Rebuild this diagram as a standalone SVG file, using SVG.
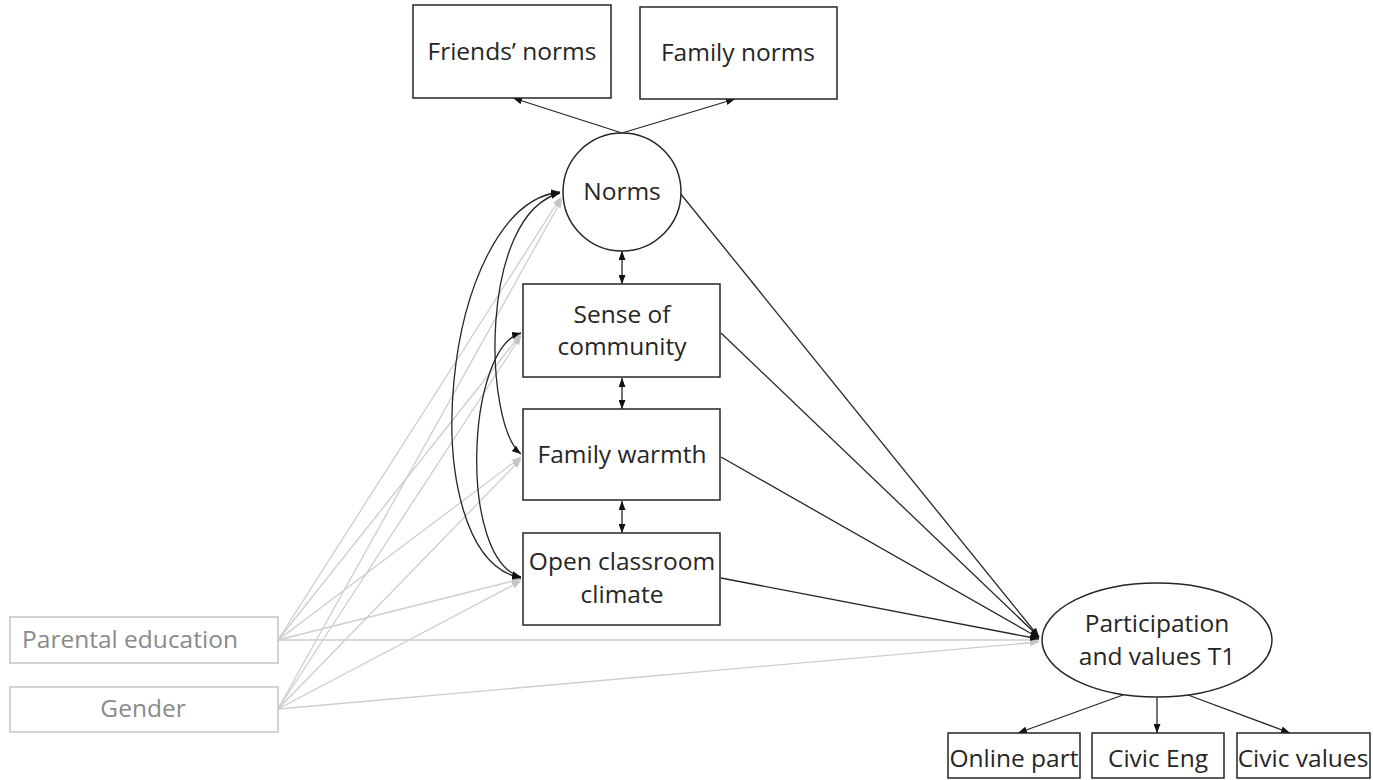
<svg xmlns="http://www.w3.org/2000/svg" width="1373" height="780" viewBox="0 0 1373 780">
<style>
  .box{fill:#fff;stroke:#262626;stroke-width:1.5}
  .gbox{fill:#fff;stroke:#c4c4c4;stroke-width:1.5}
  .t{font-family:"Open Sans","Liberation Sans",sans-serif;font-size:24.5px;fill:#262626;text-anchor:middle}
  .gt{font-family:"Open Sans","Liberation Sans",sans-serif;font-size:24.5px;fill:#8a8a8a;text-anchor:middle}
  .c{fill:none;stroke:#262626;stroke-width:1.3}
  .g{fill:none;stroke:#cdcdcd;stroke-width:1.3}
</style>
<defs>
  <marker id="ah" viewBox="0 0 9 7" refX="9" refY="3.5" markerWidth="9" markerHeight="7" markerUnits="userSpaceOnUse" orient="auto-start-reverse">
    <path d="M0,0 L9,3.5 L0,7 z" fill="#111"/>
  </marker>
  <marker id="gh" viewBox="0 0 9 7" refX="9" refY="3.5" markerWidth="9" markerHeight="7" markerUnits="userSpaceOnUse" orient="auto">
    <path d="M0,0 L9,3.5 L0,7 z" fill="#c4c4c4"/>
  </marker>
</defs>
<rect width="1373" height="780" fill="#fff"/>

<g id="connectors">
  <!-- gray covariate paths -->
  <line class="g" x1="278" y1="640" x2="561" y2="197" marker-end="url(#gh)"/>
  <line class="g" x1="278" y1="709" x2="562" y2="199" marker-end="url(#gh)"/>
  <line class="g" x1="278" y1="640" x2="521" y2="334" marker-end="url(#gh)"/>
  <line class="g" x1="278" y1="709" x2="521" y2="336" marker-end="url(#gh)"/>
  <line class="g" x1="278" y1="640" x2="521" y2="457" marker-end="url(#gh)"/>
  <line class="g" x1="278" y1="709" x2="521" y2="459" marker-end="url(#gh)"/>
  <line class="g" x1="278" y1="640" x2="521" y2="579" marker-end="url(#gh)"/>
  <line class="g" x1="278" y1="709" x2="521" y2="581" marker-end="url(#gh)"/>
  <line class="g" x1="278" y1="640" x2="1039" y2="640" marker-end="url(#gh)"/>
  <line class="g" x1="278" y1="709" x2="1039" y2="642" marker-end="url(#gh)"/>

  <!-- loadings of Norms -->
  <line class="c" x1="622" y1="133" x2="513" y2="98" marker-end="url(#ah)"/>
  <line class="c" x1="622" y1="133" x2="735" y2="99" marker-end="url(#ah)"/>

  <!-- correlations between adjacent mediators -->
  <line class="c" x1="622" y1="251" x2="622" y2="284" marker-start="url(#ah)" marker-end="url(#ah)"/>
  <line class="c" x1="622" y1="378" x2="622" y2="409" marker-start="url(#ah)" marker-end="url(#ah)"/>
  <line class="c" x1="622" y1="501" x2="622" y2="533" marker-start="url(#ah)" marker-end="url(#ah)"/>

  <!-- curved correlations -->
  <path class="c" d="M560,192 C440,205 410,556 521,578" marker-start="url(#ah)" marker-end="url(#ah)"/>
  <path class="c" d="M560,193 C478,215 484,425 521,454" marker-start="url(#ah)" marker-end="url(#ah)"/>
  <path class="c" d="M521,333 C466,348 458,560 521,577" marker-start="url(#ah)" marker-end="url(#ah)"/>

  <!-- paths to outcome -->
  <line class="c" x1="680" y1="193" x2="1039" y2="637" marker-end="url(#ah)"/>
  <line class="c" x1="721" y1="333" x2="1039" y2="637" marker-end="url(#ah)"/>
  <line class="c" x1="721" y1="457" x2="1039" y2="638" marker-end="url(#ah)"/>
  <line class="c" x1="721" y1="578" x2="1039" y2="639" marker-end="url(#ah)"/>

  <!-- outcome loadings -->
  <line class="c" x1="1123" y1="695" x2="1018" y2="733" marker-end="url(#ah)"/>
  <line class="c" x1="1157" y1="697" x2="1157" y2="733" marker-end="url(#ah)"/>
  <line class="c" x1="1188" y1="695" x2="1290" y2="733" marker-end="url(#ah)"/>
</g>

<g id="friends-norms">
  <rect class="box" x="413" y="5" width="198" height="93"/>
  <text class="t" x="512" y="60">Friends’ norms</text>
</g>
<g id="family-norms">
  <rect class="box" x="640" y="7" width="197" height="92"/>
  <text class="t" x="738" y="61">Family norms</text>
</g>
<g id="norms">
  <circle class="box" cx="622" cy="192" r="59"/>
  <text class="t" x="622" y="200">Norms</text>
</g>
<g id="sense-of-community">
  <rect class="box" x="523" y="284" width="197" height="93"/>
  <text class="t" x="622" y="323">Sense of</text>
  <text class="t" x="622" y="355">community</text>
</g>
<g id="family-warmth">
  <rect class="box" x="523" y="409" width="197" height="91"/>
  <text class="t" x="622" y="463">Family warmth</text>
</g>
<g id="open-classroom-climate">
  <rect class="box" x="523" y="533" width="197" height="92"/>
  <text class="t" x="622" y="570">Open classroom</text>
  <text class="t" x="622" y="603">climate</text>
</g>
<g id="parental-education">
  <rect class="gbox" x="10" y="617" width="268" height="46"/>
  <text class="gt" x="130" y="648">Parental education</text>
</g>
<g id="gender">
  <rect class="gbox" x="10" y="687" width="268" height="45"/>
  <text class="gt" x="143" y="717">Gender</text>
</g>
<g id="participation">
  <ellipse class="box" cx="1157" cy="640" rx="115" ry="57"/>
  <text class="t" x="1157" y="632">Participation</text>
  <text class="t" x="1157" y="665">and values T1</text>
</g>
<g id="online-part">
  <rect class="box" x="948" y="733" width="132" height="45"/>
  <text class="t" x="1014" y="767">Online part</text>
</g>
<g id="civic-eng">
  <rect class="box" x="1092" y="733" width="132" height="45"/>
  <text class="t" x="1158" y="767">Civic Eng</text>
</g>
<g id="civic-values">
  <rect class="box" x="1237" y="733" width="133" height="45"/>
  <text class="t" x="1303" y="767">Civic values</text>
</g>
</svg>
